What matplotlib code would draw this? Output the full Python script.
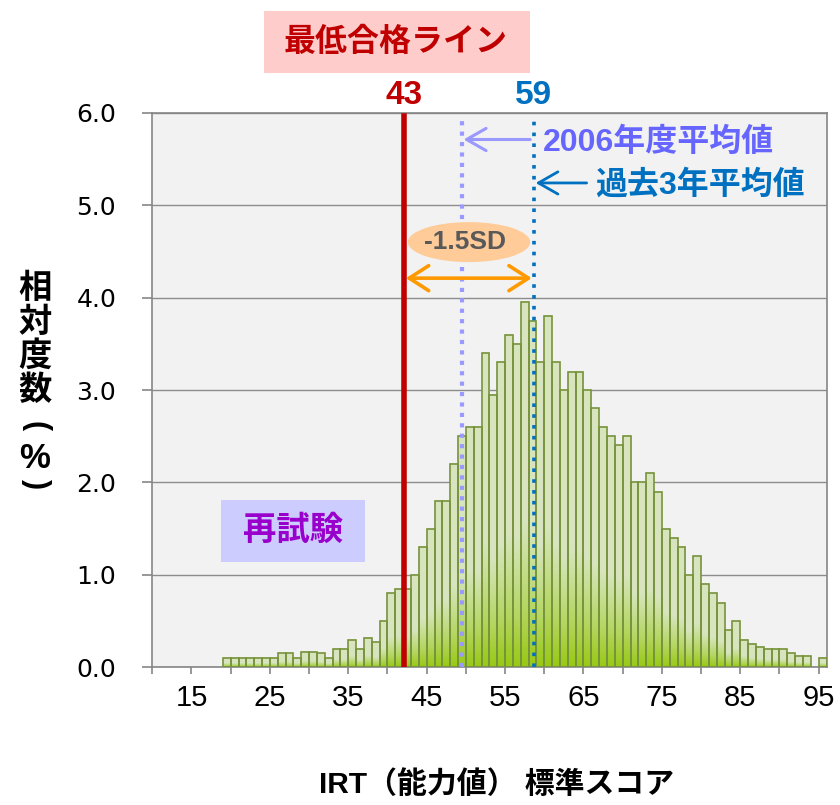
import numpy as np
import matplotlib.pyplot as plt
from matplotlib.colors import LinearSegmentedColormap
from matplotlib.patches import Ellipse, Rectangle

# --- data -------------------------------------------------------------
scores = list(range(20, 97))
freq = [0.1, 0.1, 0.1, 0.1, 0.1, 0.1, 0.1, 0.15, 0.15, 0.1,    # 20-29
        0.17, 0.17, 0.15, 0.1, 0.2, 0.2, 0.3, 0.2, 0.32, 0.27,   # 30-39
        0.5, 0.8, 0.85, 0.85, 1.0, 1.3, 1.5, 1.8, 1.8, 2.2,      # 40-49
        2.5, 2.6, 2.6, 3.4, 2.95, 3.3, 3.6, 3.5, 3.95, 3.75,     # 50-59
        3.3, 3.8, 3.3, 3.0, 3.2, 3.2, 3.0, 2.8, 2.6, 2.5,        # 60-69
        2.4, 2.5, 2.0, 2.0, 2.1, 1.9, 1.5, 1.4, 1.3, 1.0,        # 70-79
        1.2, 0.9, 0.8, 0.7, 0.4, 0.5, 0.3, 0.25, 0.22, 0.2,      # 80-89
        0.2, 0.2, 0.15, 0.12, 0.12, 0.0, 0.1]                    # 90-96

pass_line = 42.6      # 最低合格ライン
mean_2006 = 50.0      # 2006年度平均値
mean_past3 = 59.2     # 過去3年平均値
pass_label = '43'
past3_label = '59'

xtick_labels = ['15', '25', '35', '45', '55', '65', '75', '85', '95']
yticks = [0.0, 1.0, 2.0, 3.0, 4.0, 5.0, 6.0]

title = '最低合格ライン'
xlabel = 'IRT（能力値） 標準スコア'
ylabel = '相対度数（%）'
note_2006 = '2006年度平均値'
note_past3 = '過去3年平均値'
sd_text = '-1.5SD'
retest = '再試験'

# --- style ------------------------------------------------------------
W, H = 840, 805
jp = ['Liberation Sans', 'Noto Sans CJK JP']


def fx(px):
    return px / W


def fy(py):
    return 1 - py / H


bar_cmap = LinearSegmentedColormap.from_list(
    'bar', [(0.0, '#99c914'), (0.15, '#b3d65e'), (0.4, '#d8e5c0'), (1.0, '#d7e4bd')])

fig = plt.figure(figsize=(W / 100, H / 100), dpi=100)
ax = fig.add_axes([fx(152.3), fy(667.3), (826.5 - 152.3) / W, (667.3 - 112.7) / H])
ax.set_facecolor('#f2f2f2')

# bars with vertical gradient
grad = np.linspace(0, 1, 200).reshape(-1, 1)
for s, f in zip(scores, freq):
    if f <= 0:
        continue
    ax.imshow(grad, extent=(s - 0.5, s + 0.5, 0, f), origin='lower', aspect='auto',
              cmap=bar_cmap, interpolation='bilinear', zorder=2)
ax.bar([s for s, f in zip(scores, freq) if f > 0], [f for f in freq if f > 0],
       width=1.0, fill=False, edgecolor='#77933c', linewidth=1.2, zorder=3)

ax.set_xlim(10.5, 96.5)
ax.set_ylim(0, 6)

# axes, grid, ticks
ax.yaxis.grid(True, color='#8c8c8c', linewidth=1.0)
ax.set_axisbelow(True)
for sp in ax.spines.values():
    sp.set_color('#868686')
    sp.set_linewidth(1.2)
ax.set_yticks(yticks)
ax.set_yticklabels(['{:.1f}'.format(v) for v in yticks], fontsize=18, family='DejaVu Sans')
ax.tick_params(axis='y', length=7, width=1.2, color='#868686', pad=19)
ax.set_xticks(np.arange(15.5, 96, 10))
ax.set_xticklabels(xtick_labels, fontsize=21, family='Liberation Sans')
ax.set_xticks(np.arange(10.5, 96, 10), minor=True)
ax.tick_params(axis='x', which='both', length=5, width=1.2, color='#868686', pad=7)

# reference lines
line_top = 5.965
ax.plot([pass_line, pass_line], [0, line_top], color='#c00000', lw=4, zorder=4)
ax.plot([mean_2006, mean_2006], [0, line_top], color='#9999ff', lw=3,
        ls=(0, (1, 1.5)), zorder=4)
ax.plot([mean_past3, mean_past3], [0, line_top], color='#0070c0', lw=2.6,
        ls=(0, (1, 2)), zorder=4)

# notes with arrows
ax.annotate('', xy=(mean_2006 + 0.2, 5.71), xytext=(58.7, 5.71),
            arrowprops=dict(arrowstyle='->,head_length=0.7,head_width=0.4', color='#9999ff',
                            lw=2.2, mutation_scale=20, shrinkA=0, shrinkB=0), zorder=6)
ax.text(60.3, 5.68, note_2006, color='#6666ff', fontsize=23, fontweight='bold',
        family=jp, ha='left', va='center', zorder=6)
ax.annotate('', xy=(mean_past3 + 0.2, 5.24), xytext=(65.9, 5.24),
            arrowprops=dict(arrowstyle='->,head_length=0.7,head_width=0.4', color='#0070c0',
                            lw=2.0, mutation_scale=20, shrinkA=0, shrinkB=0), zorder=6)
ax.text(66.95, 5.21, note_past3, color='#0070c0', fontsize=23, fontweight='bold',
        family=jp, ha='left', va='center', zorder=6)

# -1.5SD bubble and double arrow
ax.add_patch(Ellipse((50.9, 4.60), 15.6, 0.433, facecolor='#ffcc99', edgecolor='none', zorder=5))
ax.text(50.4, 4.60, sd_text, color='#595959', fontsize=19, fontweight='bold',
        family='Liberation Sans', ha='center', va='center', zorder=6)
ax.annotate('', xy=(pass_line + 0.25, 4.21), xytext=(mean_past3 - 0.3, 4.21),
            arrowprops=dict(arrowstyle='<->,head_length=0.7,head_width=0.45', color='#ff9900',
                            lw=2.6, mutation_scale=20, shrinkA=0, shrinkB=0), zorder=6)

# 再試験 box
ax.add_patch(Rectangle((19.25, 1.14), 18.35, 0.67, facecolor='#ccccff', edgecolor='none', zorder=5))
ax.text(28.4, 1.475, retest, color='#9900cc', fontsize=24, fontweight='bold',
        family=jp, ha='center', va='center', zorder=6)

# title box above the plot
fig.add_artist(Rectangle((fx(264), fy(72.7)), (530 - 264) / W, (72.7 - 11) / H,
                         transform=fig.transFigure, facecolor='#ffcccc', edgecolor='none'))
fig.text(fx(396), fy(43), title, color='#c00000', fontsize=23, fontweight='bold',
         family=jp, ha='center', va='center')
fig.text(fx(404), fy(95), pass_label, color='#c00000', fontsize=24, fontweight='bold',
         family='Liberation Sans', ha='center', va='center')
fig.text(fx(533), fy(95), past3_label, color='#0070c0', fontsize=24, fontweight='bold',
         family='Liberation Sans', ha='center', va='center')

# axis titles
fig.text(fx(497), fy(785), xlabel, color='black', fontsize=21.5, fontweight='bold',
         family=jp, ha='center', va='center')
# vertical (stacked) y label; brackets are turned to read vertically
ylab_y = [289, 323, 357, 391, 426, 458, 484]
for ch, py in zip(ylabel, ylab_y):
    if ch in '（）':
        fig.text(fx(36), fy(py), '(' if ch == '（' else ')', color='black', fontsize=22,
                 fontweight='bold', family='Liberation Sans', rotation=-90,
                 ha='center', va='center')
    elif ch == '%':
        fig.text(fx(35), fy(py), ch, color='black', fontsize=25, fontweight='bold',
                 family='Liberation Sans', ha='center', va='center')
    else:
        fig.text(fx(35), fy(py), ch, color='black', fontsize=24, fontweight='bold',
                 family=jp, ha='center', va='center')

fig.savefig('out.png', dpi=100)
